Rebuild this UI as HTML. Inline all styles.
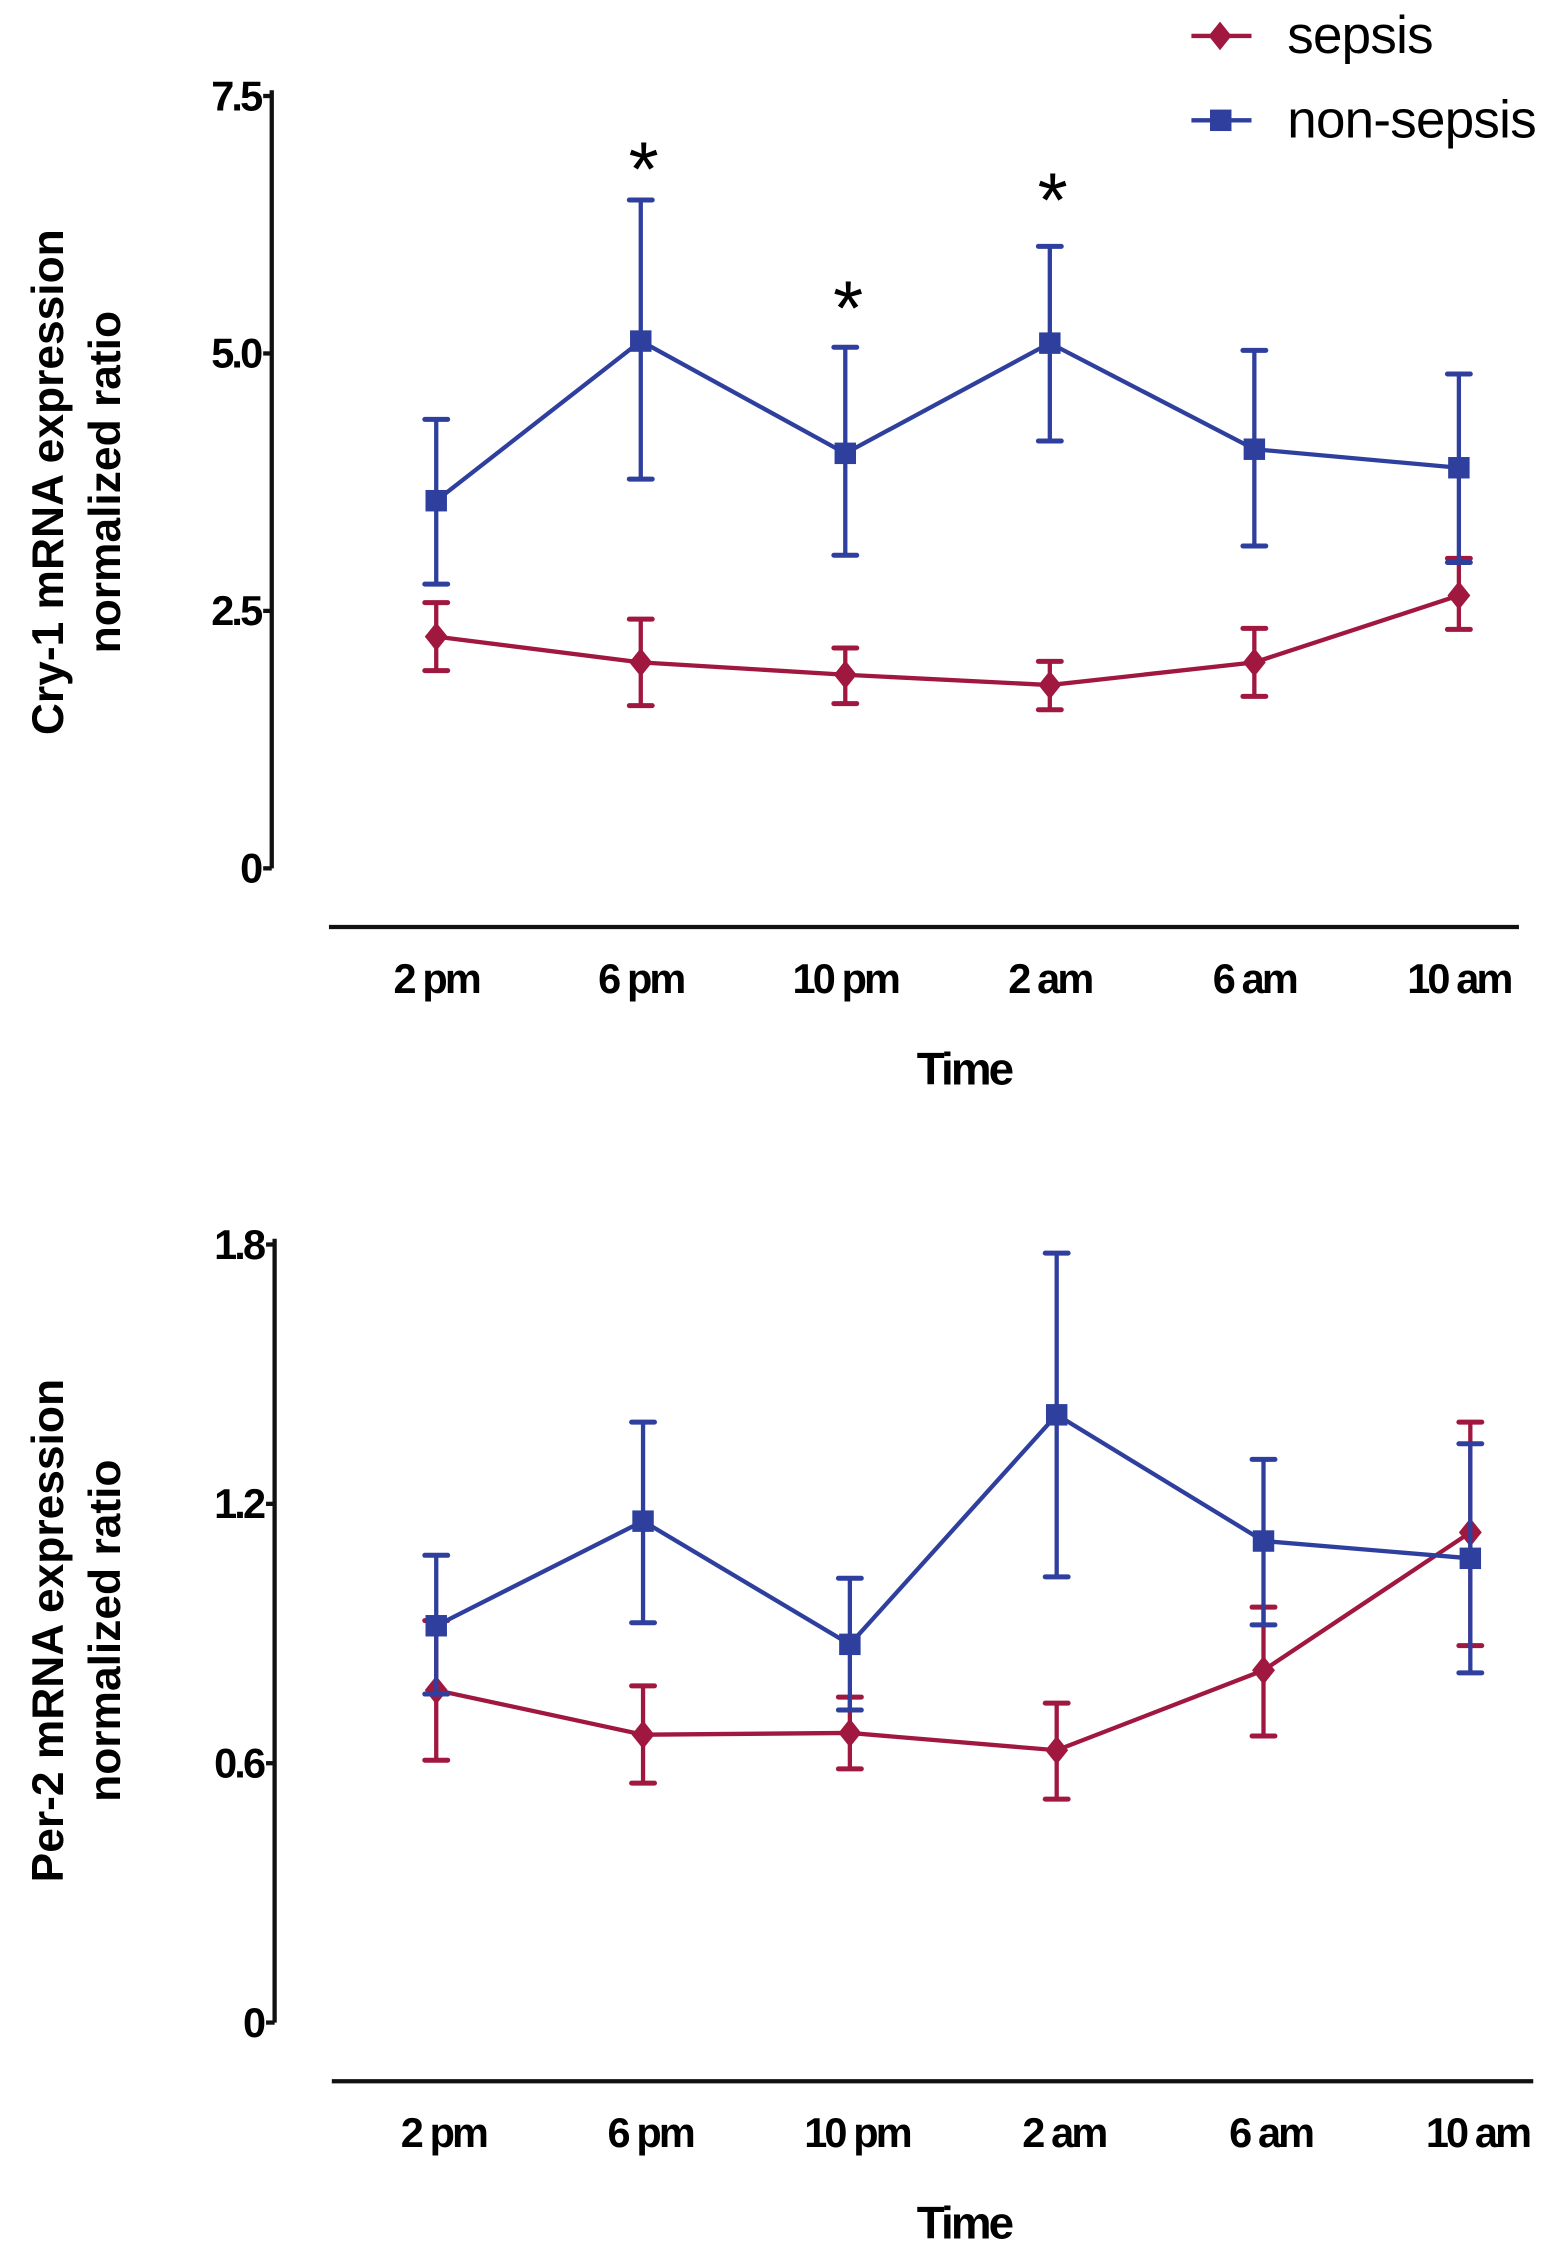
<!DOCTYPE html>
<html><head><meta charset="utf-8"><style>
html,body{margin:0;padding:0;background:#fff}
svg{display:block}
text{font-family:"Liberation Sans",sans-serif}
.tick{font-weight:bold;font-size:29px;letter-spacing:-2px}
</style></head><body>
<svg id="fig" width="1559" height="2243" viewBox="0 0 1090 1568" xmlns="http://www.w3.org/2000/svg"></svg>
<script>
const categories = ["2 pm","6 pm","10 pm","2 am","6 am","10 am"];
const cryNon = [3.57,5.12,4.03,5.10,4.07,3.89];
const cryNonHi = [4.36,6.49,5.06,6.04,5.03,4.80];
const cryNonLo = [2.76,3.78,3.04,4.15,3.13,2.97];
const crySep = [2.25,2.00,1.88,1.78,2.00,2.65];
const crySepHi = [2.58,2.42,2.14,2.01,2.33,3.01];
const crySepLo = [1.92,1.58,1.60,1.54,1.67,2.32];
const cryTicks = ["0","2.5","5.0","7.5"];
const perNon = [0.918,1.16,0.875,1.406,1.114,1.074];
const perNonHi = [1.081,1.389,1.028,1.78,1.303,1.339];
const perNonLo = [0.76,0.925,0.723,1.031,0.92,0.809];
const perSep = [0.769,0.666,0.67,0.63,0.815,1.134];
const perSepHi = [0.93,0.779,0.753,0.739,0.961,1.389];
const perSepLo = [0.607,0.554,0.587,0.517,0.663,0.872];
const perTicks = ["0","0.6","1.2","1.8"];
const stars = [null,6.95,5.6,6.65,null,null];

const NS="http://www.w3.org/2000/svg";
const svg=document.getElementById('fig');
const BLUE="#2E3F9E", RED="#A0173F";
function el(tag,attrs,parent){const e=document.createElementNS(NS,tag);for(const k in attrs)e.setAttribute(k,attrs[k]);(parent||svg).appendChild(e);return e;}

function panel(cfg){
  const g=el('g',{});
  
  
  const y=v=>cfg.y0-(v/cfg.max)*(cfg.y0-cfg.yTop);
  const x=i=>cfg.x0+i*cfg.dx;
  const ax=el('line',{x1:cfg.axX,x2:cfg.axX,y1:cfg.yTop-4,y2:cfg.y0,stroke:'#111','stroke-width':3},g);
  
  
  cfg.ticks.forEach(t=>{
    const v=parseFloat(t);
    el('line',{x1:cfg.axX-6,x2:cfg.axX,y1:y(v),y2:y(v),stroke:'#111','stroke-width':3},g);
    const tx=el('text',{x:cfg.axX-8,y:y(v)+10,'text-anchor':'end',class:'tick'},g);
    tx.textContent=t;
    
    
  });
  const xl=el('line',{x1:cfg.xl1,x2:cfg.xl2,y1:cfg.xAxisY,y2:cfg.xAxisY,stroke:'#111','stroke-width':3},g);
  
  
  categories.forEach((c,i)=>{
    const tx=el('text',{x:x(i)+cfg.labOff,y:cfg.xAxisY+46,'text-anchor':'middle',class:'tick'},g);
    tx.textContent=c;
    
    
  });
  const tt=el('text',{x:674,y:cfg.xAxisY+110,'text-anchor':'middle',class:'tick',style:'font-size:32px'},g);
  tt.textContent='Time';
  
  
  const yt=el('text',{transform:`translate(${cfg.ytx},${cfg.yty}) rotate(-90)`,'text-anchor':'middle','font-weight':'bold','font-size':'31'},g);
  
  
  const t1=el('tspan',{x:0,dy:0},yt);t1.textContent=cfg.title1;
  const t2=el('tspan',{x:0,dy:40},yt);t2.textContent='normalized ratio';
  function series(vals,hi,lo,color,shape,name,xo){
    const sg=el('g',{},g);
    
    
    vals.forEach((v,i)=>{
      const xx=x(i)+xo;
      el('line',{x1:xx,x2:xx,y1:y(hi[i]),y2:y(lo[i]),stroke:color,'stroke-width':3},sg);
      el('line',{x1:xx-8,x2:xx+8,y1:y(hi[i]),y2:y(hi[i]),stroke:color,'stroke-width':3.5,'stroke-linecap':'round'},sg);
      el('line',{x1:xx-8,x2:xx+8,y1:y(lo[i]),y2:y(lo[i]),stroke:color,'stroke-width':3.5,'stroke-linecap':'round'},sg);
    });
    el('polyline',{points:vals.map((v,i)=>`${x(i)+xo},${y(v)}`).join(' '),fill:'none',stroke:color,'stroke-width':3},sg);
    vals.forEach((v,i)=>{
      const xx=x(i)+xo,yy=y(v);
      let m;
      if(shape==='sq') m=el('rect',{x:xx-7.5,y:yy-7.5,width:15,height:15,fill:color},sg);
      else m=el('polygon',{points:`${xx},${yy-10} ${xx+8},${yy} ${xx},${yy+10} ${xx-8},${yy}`,fill:color},sg);
      
      
    });
  }
  series(cfg.sep,cfg.sepHi,cfg.sepLo,RED,'di','sepsis-series',0);
  series(cfg.non,cfg.nonHi,cfg.nonLo,BLUE,'sq','non-sepsis-series',0);
  if(cfg.stars) cfg.stars.forEach((s,i)=>{ if(s==null) return;
    const st=el('text',{x:x(i)+2,y:y(s)+30,'text-anchor':'middle','font-size':'54'},g);
    st.textContent='*';
    
    
  });
}
panel({name:'cry1-chart',y0:607,yTop:67,max:7.5,axX:190,ticks:cryTicks,x0:305,dx:143,labOff:0,xAxisY:648,xl1:230,xl2:1062,ytx:44,yty:337,title1:'Cry-1 mRNA expression',
  non:cryNon,nonHi:cryNonHi,nonLo:cryNonLo,sep:crySep,sepHi:crySepHi,sepLo:crySepLo,stars:stars});
panel({name:'per2-chart',y0:1414,yTop:870,max:1.8,axX:192,ticks:perTicks,x0:305,dx:144.6,labOff:5,xAxisY:1455,xl1:232,xl2:1072,ytx:44,yty:1140,title1:'Per-2 mRNA expression',
  non:perNon,nonHi:perNonHi,nonLo:perNonLo,sep:perSep,sepHi:perSepHi,sepLo:perSepLo,stars:null});
const lg=el('g',{});


[[25,'sepsis',RED,'di'],[84,'non-sepsis',BLUE,'sq']].forEach(([yy,t,c,s])=>{
  const e=el('g',{},lg);
  
  
  el('line',{x1:833,x2:875,y1:yy,y2:yy,stroke:c,'stroke-width':3},e);
  if(s==='sq') el('rect',{x:846,y:yy-7.5,width:15,height:15,fill:c},e);
  else el('polygon',{points:`853,${yy-10} 861,${yy} 853,${yy+10} 845,${yy}`,fill:c},e);
  const tx=el('text',{x:900,y:yy+12,'font-size':'37','letter-spacing':'-0.5'},e);
  tx.textContent=t;
});
</script>
</body></html>
